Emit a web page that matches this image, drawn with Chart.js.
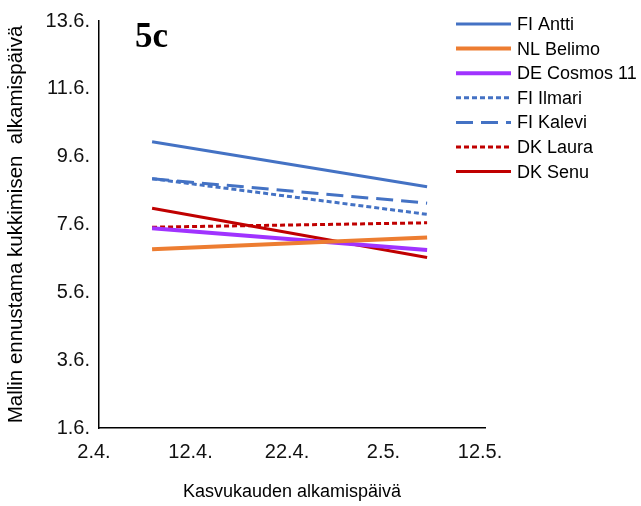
<!DOCTYPE html>
<html>
<head>
<meta charset="utf-8">
<script src="https://cdn.jsdelivr.net/npm/chart.js@4"></script>
<style>
  body { margin: 0; background: #fff; }
</style>
</head>
<body>
<canvas id="chart" width="641" height="506"></canvas>
<script>
// x = day of April (2.4. = 2, 2.5. = 32), y = day of June
const xTickValues = [2, 12, 22, 32, 42];
const xTickLabels = ["2.4.", "12.4.", "22.4.", "2.5.", "12.5."];
const yTickValues = [1, 3, 5, 7, 9, 11, 13];
const yTickLabels = ["1.6.", "3.6.", "5.6.", "7.6.", "9.6.", "11.6.", "13.6."];

const startDays = [7.5, 36];

const names = ["FI Antti", "NL Belimo", "DE Cosmos 11", "FI Ilmari", "FI Kalevi", "DK Laura", "DK Senu"];
const antti = [9.44, 8.11];
const belimo = [6.27, 6.62];
const cosmos = [6.89, 6.25];
const ilmari = [8.35, 7.30];
const kalevi = [8.35, 7.63];
const laura = [6.92, 7.05];
const senu = [7.48, 6.03];

const seriesValues = [antti, belimo, cosmos, ilmari, kalevi, laura, senu];
const colors = ["#4472C4", "#ED7D31", "#A033FF", "#4472C4", "#4472C4", "#C00000", "#C00000"];
const dashes = [[], [], [], [5, 3], [17, 8], [5, 3], []];
const widths = [3, 4, 4, 3, 3, 3, 3];

const datasets = names.map((name, i) => ({
  label: name,
  data: startDays.map((x, j) => ({ x: x, y: seriesValues[i][j] })),
  borderColor: colors[i],
  backgroundColor: colors[i],
  borderDash: dashes[i],
  borderWidth: widths[i],
  pointRadius: 0,
  fill: false
}));

// legend drawn over the plot like in the original
const legendPlugin = {
  id: "overlayLegend",
  afterDraw(chart) {
    const ctx = chart.ctx;
    ctx.save();
    ctx.font = "18px 'Liberation Sans', Arial, sans-serif";
    ctx.textBaseline = "middle";
    chart.data.datasets.forEach((ds, i) => {
      const y = 24 + i * 24.6;
      ctx.beginPath();
      ctx.strokeStyle = ds.borderColor;
      ctx.lineWidth = ds.borderWidth;
      ctx.setLineDash(ds.borderDash);
      ctx.moveTo(456, y);
      ctx.lineTo(511, y);
      ctx.stroke();
      ctx.setLineDash([]);
      ctx.fillStyle = "#000";
      ctx.fillText(ds.label, 517, y + 1);
    });
    ctx.font = "bold 35px 'Liberation Serif', 'Times New Roman', serif";
    ctx.textBaseline = "alphabetic";
    ctx.fillText("5c", 135, 47);
    ctx.restore();
  }
};

new Chart(document.getElementById("chart"), {
  type: "line",
  data: { datasets: datasets },
  options: {
    responsive: false,
    animation: false,
    layout: { padding: { top: 21, right: 156, left: 0, bottom: 0 } },
    plugins: { legend: { display: false }, tooltip: { enabled: false } },
    scales: {
      x: {
        type: "linear",
        min: 2,
        max: 42,
        afterBuildTicks: scale => { scale.ticks = xTickValues.map(v => ({ value: v })); },
        afterFit: scale => { scale.height = 78; },
        grid: { display: false, drawTicks: false },
        border: { display: true, color: "#000", width: 1.5 },
        ticks: {
          color: "#111",
          padding: 12,
          labelOffset: -5,
          maxRotation: 0,
          font: { family: "'Liberation Sans', Arial, sans-serif", size: 20 },
          callback: v => xTickLabels[xTickValues.indexOf(v)]
        },
        title: {
          display: true,
          text: "Kasvukauden alkamispäivä",
          color: "#000",
          padding: { top: 0, bottom: 3 },
          font: { family: "'Liberation Sans', Arial, sans-serif", size: 18 }
        }
      },
      y: {
        type: "linear",
        min: 1,
        max: 13,
        afterBuildTicks: scale => { scale.ticks = yTickValues.map(v => ({ value: v })); },
        afterFit: scale => { scale.width = 99; },
        grid: { display: false, drawTicks: false },
        border: { display: true, color: "#000", width: 1.5 },
        ticks: {
          color: "#111",
          padding: 9,
          font: { family: "'Liberation Sans', Arial, sans-serif", size: 20 },
          callback: v => yTickLabels[yTickValues.indexOf(v)]
        },
        title: {
          display: true,
          text: "Mallin ennustama kukkimisen  alkamispäivä",
          color: "#000",
          padding: { top: 4, bottom: 0 },
          font: { family: "'Liberation Sans', Arial, sans-serif", size: 20.5 }
        }
      }
    }
  },
  plugins: [legendPlugin]
});
</script>
</body>
</html>
